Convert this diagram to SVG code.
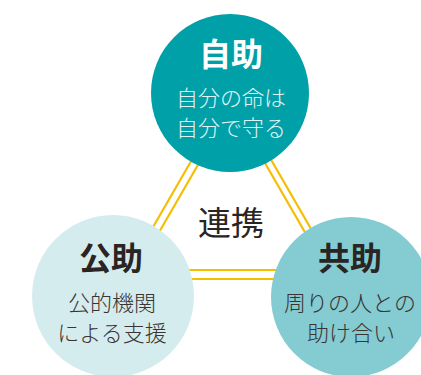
<svg xmlns="http://www.w3.org/2000/svg" width="421" height="375" viewBox="0 0 421 375">
<style>
.ln{stroke:#f5be00;stroke-width:2.2;fill:none}
text{font-family:"Noto Sans CJK JP","Noto Sans",sans-serif;text-anchor:middle}
.t{font-size:32px;font-weight:700}
.s{font-size:22px;font-weight:300}
.w{fill:#ffffff}
.ws{fill:#e2f4f5}
.d{fill:#2a2422}
.ds{fill:#3a3432}
</style>
<rect width="421" height="375" fill="#ffffff"/>
<g id="connectors">
<line class="ln" x1="226.4" y1="100" x2="116.7" y2="290"/>
<line class="ln" x1="235.4" y1="100" x2="125.7" y2="290"/>
<line class="ln" x1="236.6" y1="100" x2="346.3" y2="290"/>
<line class="ln" x1="228.6" y1="100" x2="338.3" y2="290"/>
<line class="ln" x1="130" y1="270" x2="340" y2="270"/>
<line class="ln" x1="130" y1="279" x2="340" y2="279"/>
</g>
<g id="renkei">
<text x="231" y="235" class="d" style="font-size:33px;font-weight:400">連携</text>
</g>
<g id="jijo">
<circle cx="230" cy="93" r="79" fill="#00a0a8"/>
<text x="231" y="66" class="t w">自助</text>
<text x="231" y="106" class="s ws">自分の命は</text>
<text x="231" y="136" class="s ws">自分で守る</text>
</g>
<g id="kojo">
<circle cx="113" cy="296" r="81" fill="#d5ecef"/>
<text x="111" y="270" class="t d">公助</text>
<text x="112" y="311" class="s ds">公的機関</text>
<text x="112" y="341" class="s ds">による支援</text>
</g>
<g id="kyojo">
<circle cx="351" cy="297" r="80" fill="#84cbd2"/>
<text x="350" y="270" class="t d">共助</text>
<text x="350" y="311" class="s ds">周りの人との</text>
<text x="351" y="341" class="s ds">助け合い</text>
</g>
</svg>
